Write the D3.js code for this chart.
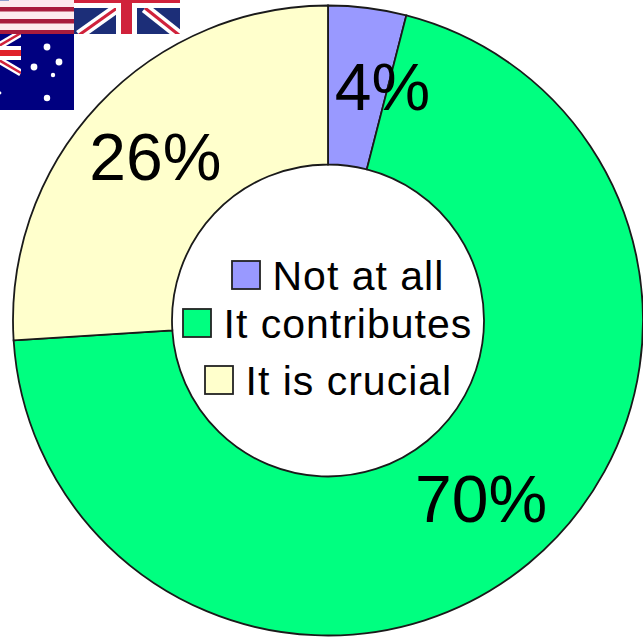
<!DOCTYPE html>
<html>
<head>
<meta charset="utf-8">
<script src="https://cdn.jsdelivr.net/npm/d3@7"></script>
<style>
html,body{margin:0;padding:0;background:#fff}
svg{display:block}
text{font-family:"Liberation Sans",Arial,sans-serif;fill:#000}
</style>
</head>
<body>
<svg id="chart" width="643" height="639"></svg>
<script>
// Survey answers and their shares, in percent
const categories = ["Not at all", "It contributes", "It is crucial"];
const shares = [4, 70, 26];
const sliceColors = ["#9999ff", "#00ff80", "#ffffcc"];
const labelNudges = [[25, 0], [3, -3], [-1, -2]];
const legendSpots = [[232, 261], [183, 309], [205, 366]];

const width = 643, height = 639;
const cx = 328, cy = 320.5, outerR = 315, innerR = 156;
const svg = d3.select("#chart");

// Small flags in the top-left corner
const defs = svg.append("defs");
defs.append("filter").attr("id", "soft").append("feGaussianBlur").attr("stdDeviation", 0.7);
function flagBox(id, x, y, w, h) {
  defs.append("clipPath").attr("id", id).append("rect")
    .attr("x", x).attr("y", y).attr("width", w).attr("height", h);
  return svg.append("g").attr("clip-path", `url(#${id})`).append("g").attr("filter", "url(#soft)");
}
function rect(g, x, y, w, h, fill) {
  g.append("rect").attr("x", x).attr("y", y).attr("width", w).attr("height", h).attr("fill", fill);
}
function stroke(g, x1, y1, x2, y2, w, color) {
  g.append("line").attr("x1", x1).attr("y1", y1).attr("x2", x2).attr("y2", y2)
    .attr("stroke", color).attr("stroke-width", w);
}

// United States
const us = flagBox("clipUs", 0, 0, 74, 34);
rect(us, -4, -4, 82, 42, "#fdeaee");
[[7, 4.5], [19, 4.5], [30, 8]].forEach(([y, h]) => rect(us, -4, y, 82, h, "#a81c3c"));
rect(us, 0, -3, 9, 4, "#8c9ccc");

// United Kingdom
const uk = flagBox("clipUk", 74, 0, 106, 34);
rect(uk, 70, -4, 114, 42, "#1c2f78");
[[[117, 8], [79, 35]], [[145, 8], [179, 35]]].forEach(([a, b]) => {
  stroke(uk, a[0], a[1], b[0], b[1], 10, "#fff");
  stroke(uk, a[0], a[1], b[0], b[1], 3, "#d0203a");
});
rect(uk, 70, -4, 114, 12, "#fff");
rect(uk, 116, -4, 21, 42, "#fff");
rect(uk, 70, -4, 114, 7, "#d0203a");
rect(uk, 121, -4, 11, 42, "#d0203a");

// Australia
const au = flagBox("clipAu", 0, 34, 74, 76);
rect(au, -4, 30, 82, 84, "#000080");
[[[-8, 50], [21, 33]], [[-8, 56], [21, 73]]].forEach(([a, b]) => {
  stroke(au, a[0], a[1], b[0], b[1], 7, "#fff");
  stroke(au, a[0], a[1], b[0], b[1], 2.5, "#d0203a");
});
rect(au, -4, 46, 25, 14, "#fff");
rect(au, -4, 50, 25, 6, "#e0202c");
rect(au, 21, 30, 3, 84, "#000080");
[[47, 47, 3.4], [59, 62, 3.4], [34, 67, 3.4], [53, 75, 2.2], [47, 98, 3.2], [0, 93, 1.4]].forEach(([x, y, r]) =>
  au.append("circle").attr("cx", x).attr("cy", y).attr("r", r).attr("fill", "#fff"));

// Donut slices
const pie = d3.pie().sort(null).value(d => d);
const arc = d3.arc().innerRadius(innerR).outerRadius(outerR);
const slices = pie(shares);
const donut = svg.append("g").attr("transform", `translate(${cx},${cy})`);
donut.selectAll("path").data(slices).join("path")
  .attr("d", arc)
  .attr("fill", (d, i) => sliceColors[i])
  .attr("stroke", "#1a1a1a")
  .attr("stroke-width", 1.8);

// Percentage labels, placed from each slice's centroid
donut.selectAll("text").data(slices).join("text")
  .attr("text-anchor", "middle")
  .attr("font-size", 66)
  .attr("x", (d, i) => arc.centroid(d)[0] + labelNudges[i][0])
  .attr("y", (d, i) => arc.centroid(d)[1] + labelNudges[i][1] + 23)
  .text(d => d.value + "%");

// Legend inside the hole
const swatch = 28, gap = 12.5;
const legend = svg.append("g").selectAll("g").data(categories).join("g")
  .attr("transform", (d, i) => `translate(${legendSpots[i][0]},${legendSpots[i][1]})`);
legend.append("rect")
  .attr("width", swatch).attr("height", swatch)
  .attr("fill", (d, i) => sliceColors[i])
  .attr("stroke", "#222").attr("stroke-width", 1.8);
legend.append("text")
  .attr("x", swatch + gap).attr("y", swatch + 0.5)
  .attr("font-size", 41)
  .attr("letter-spacing", 1)
  .text(d => d);
</script>
</body>
</html>
